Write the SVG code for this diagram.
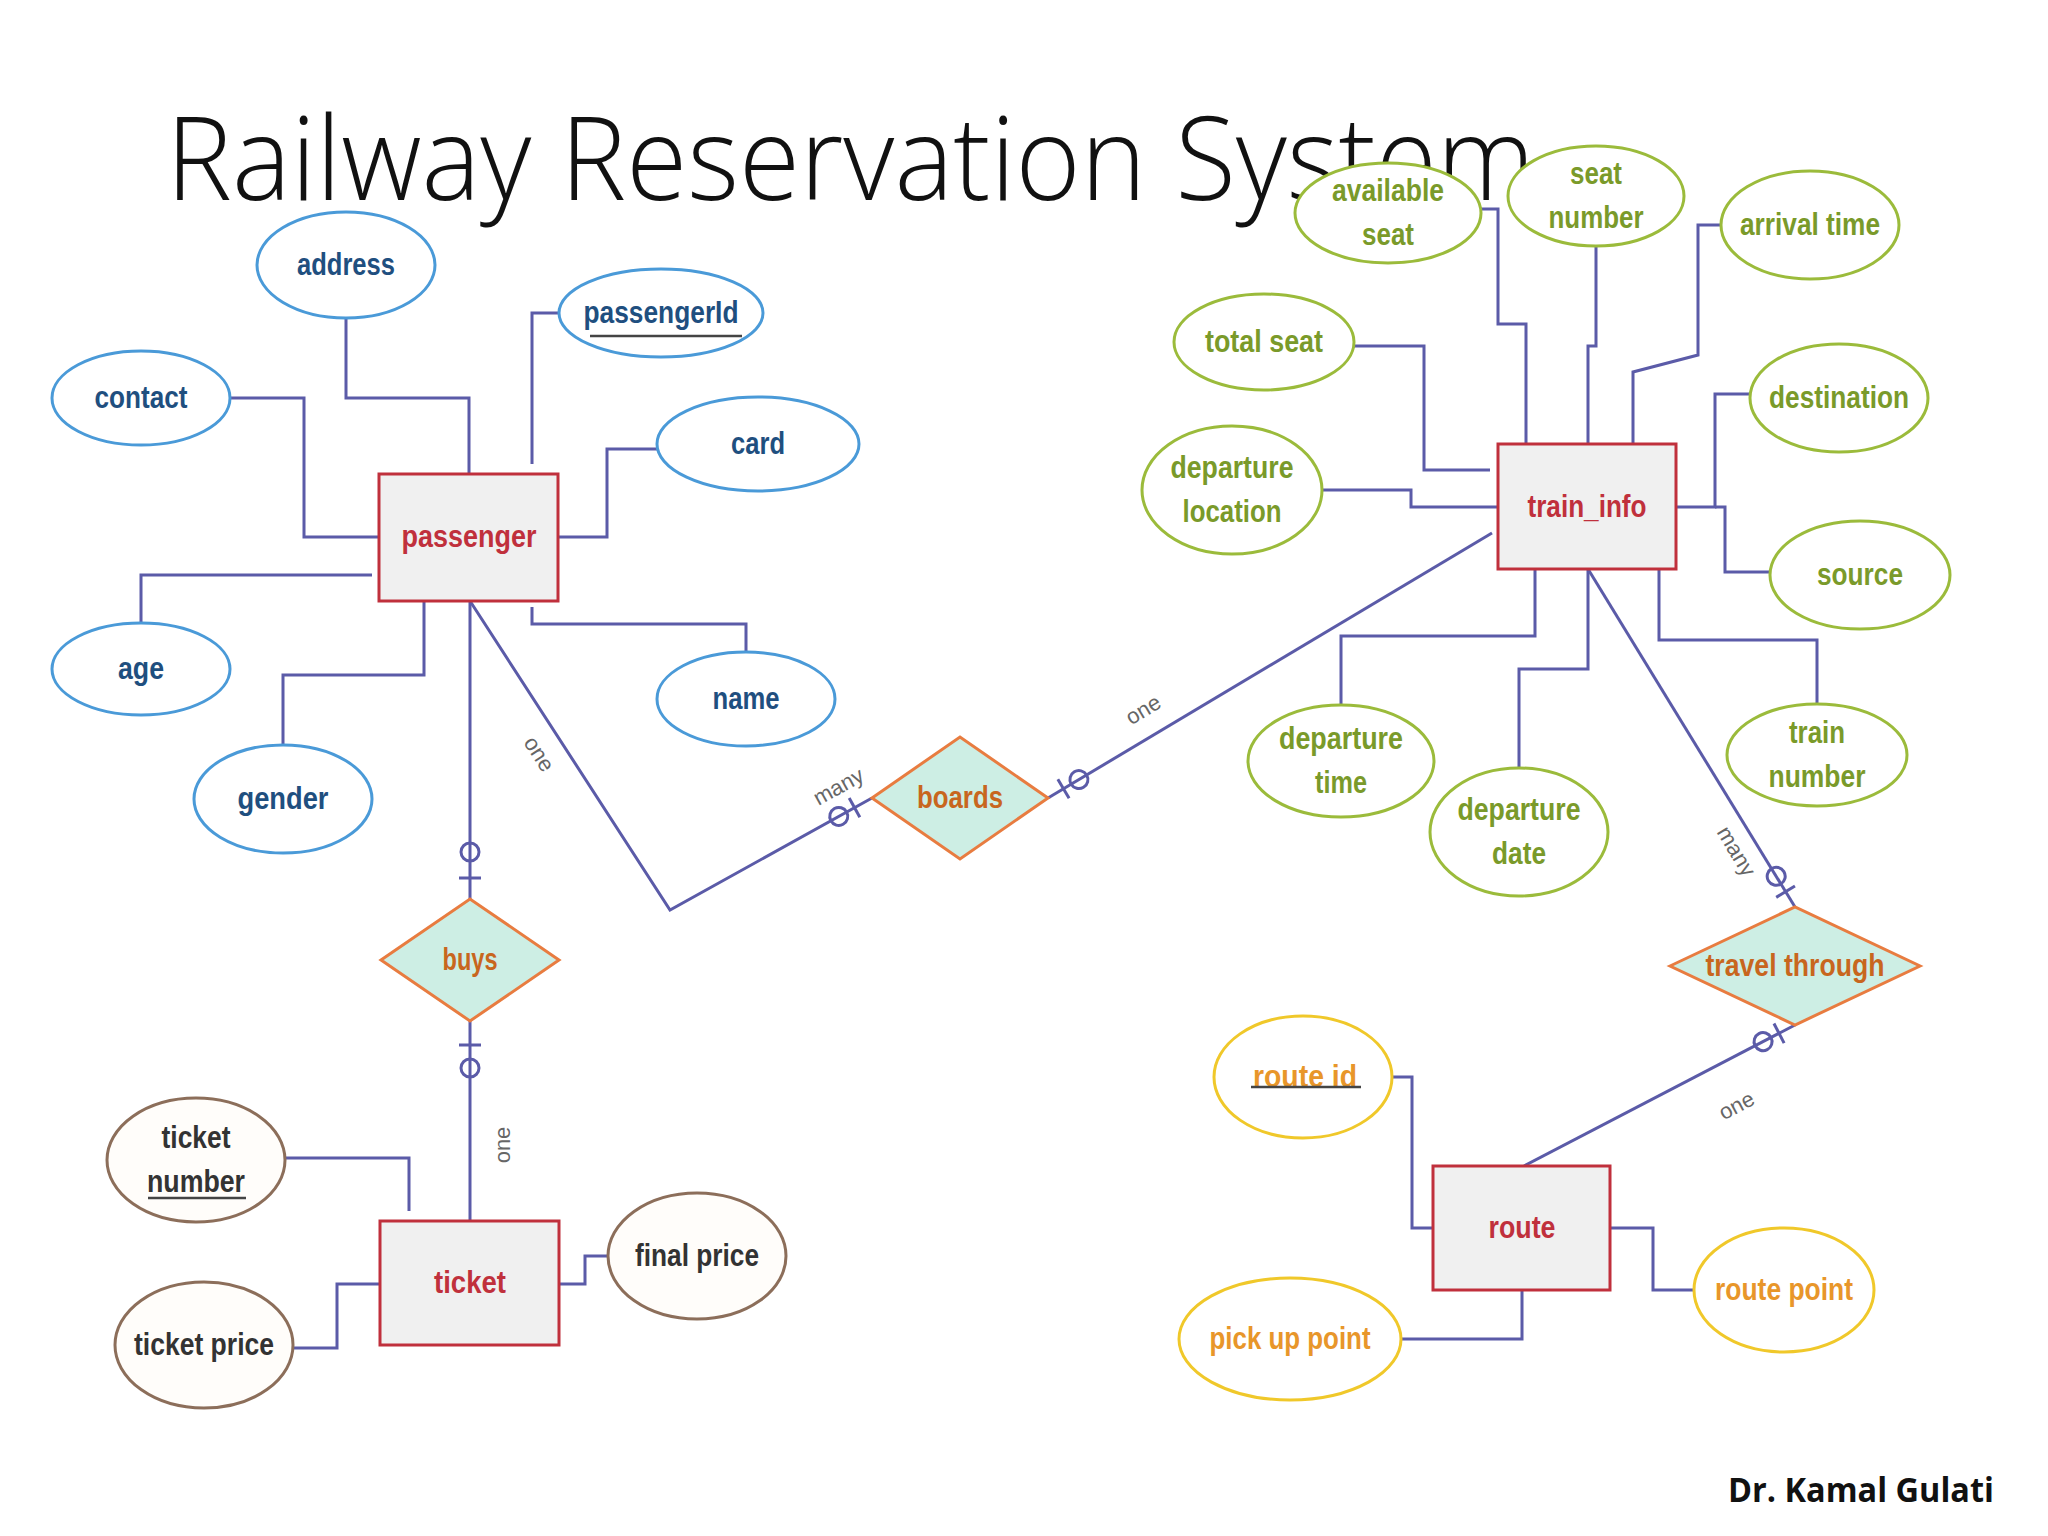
<svg xmlns="http://www.w3.org/2000/svg" width="2048" height="1536" viewBox="0 0 2048 1536">
<style>
.bg{fill:#ffffff}
.title{font-family:"Open Sans","Liberation Sans",sans-serif;font-weight:300;font-size:116px;fill:#111}
.author{font-family:"Open Sans","Liberation Sans",sans-serif;font-weight:700;font-size:34px;fill:#111}
.conn{fill:none;stroke:#5b5ba8;stroke-width:3}
.sym{fill:none;stroke:#5b5ba8;stroke-width:3}
.card{font-family:"Liberation Sans",sans-serif;font-size:22px;fill:#666}
.lbl{font-family:"Liberation Sans",sans-serif;font-weight:700;font-size:31px;text-anchor:middle}
.ent rect{fill:#f0f0f0;stroke:#c0303c;stroke-width:3}
.ent text{fill:#c0303c}
.rel polygon{fill:#cdeee4;stroke:#e87c40;stroke-width:3}
.rel text{fill:#c8661e}
.blue ellipse{fill:#ffffff;stroke:#4a9ad8;stroke-width:3}
.blue text{fill:#1f4f7f}
.green ellipse{fill:#ffffff;stroke:#9bbb3b;stroke-width:3}
.green text{fill:#7a9a2a}
.brown ellipse{fill:#fffdfa;stroke:#8c6e5a;stroke-width:3}
.brown text{fill:#333333}
.yellow ellipse{fill:#ffffff;stroke:#f0c82a;stroke-width:3}
.yellow text{fill:#e8962a}
.ul{stroke:#444;stroke-width:2.5}
</style>
<rect class="bg" x="0" y="0" width="2048" height="1536"/>
<text class="title" x="166" y="200" textLength="1369" lengthAdjust="spacingAndGlyphs">Railway Reservation System</text>

<g id="connectors">
  <!-- passenger attributes -->
  <polyline class="conn" points="346,318 346,398 469,398 469,474"/>
  <polyline class="conn" points="559,313 532,313 532,464"/>
  <polyline class="conn" points="230,398 304,398 304,537 379,537"/>
  <polyline class="conn" points="657,449 607,449 607,537 558,537"/>
  <polyline class="conn" points="141,623 141,575 372,575"/>
  <polyline class="conn" points="283,745 283,675 424,675 424,601"/>
  <polyline class="conn" points="746,652 746,624 532,624 532,607"/>
  <!-- train_info attributes -->
  <polyline class="conn" points="1481,209 1498,209 1498,324 1526,324 1526,444"/>
  <polyline class="conn" points="1596,246 1596,346 1588,346 1588,444"/>
  <polyline class="conn" points="1721,225 1698,225 1698,355 1633,372 1633,444"/>
  <polyline class="conn" points="1353,346 1424,346 1424,470 1490,470"/>
  <polyline class="conn" points="1322,490 1411,490 1411,507 1498,507"/>
  <polyline class="conn" points="1750,394 1715,394 1715,507 1676,507"/>
  <polyline class="conn" points="1770,572 1725,572 1725,507 1715,507"/>
  <polyline class="conn" points="1341,705 1341,636 1535,636 1535,569"/>
  <polyline class="conn" points="1519,768 1519,669 1588,669 1588,569"/>
  <polyline class="conn" points="1817,704 1817,640 1659,640 1659,569"/>
  <!-- ticket attributes -->
  <polyline class="conn" points="285,1158 409,1158 409,1211"/>
  <polyline class="conn" points="293,1348 337,1348 337,1284 380,1284"/>
  <polyline class="conn" points="608,1256 585,1256 585,1284 559,1284"/>
  <!-- route attributes -->
  <polyline class="conn" points="1392,1077 1412,1077 1412,1228 1433,1228"/>
  <polyline class="conn" points="1610,1228 1653,1228 1653,1290 1694,1290"/>
  <polyline class="conn" points="1400,1339 1522,1339 1522,1290"/>
  <!-- relationships -->
  <polyline class="conn" points="470,601 670,910 872,798"/>
  <line class="conn" x1="1048" y1="798" x2="1492" y2="533"/>
  <line class="conn" x1="470" y1="601" x2="470" y2="899"/>
  <line class="conn" x1="470" y1="1021" x2="470" y2="1221"/>
  <line class="conn" x1="1588" y1="569" x2="1795" y2="907"/>
  <line class="conn" x1="1795" y1="1025" x2="1524" y2="1166"/>
  <!-- zero-or-one symbols -->
  <circle class="sym" cx="470" cy="852" r="9"/>
  <line class="sym" x1="459" y1="878" x2="481" y2="878"/>
  <circle class="sym" cx="470" cy="1068" r="9"/>
  <line class="sym" x1="459" y1="1045" x2="481" y2="1045"/>
  <g transform="translate(872,798) rotate(-29)">
    <line class="sym" x1="-20" y1="-11" x2="-20" y2="11"/>
    <circle class="sym" cx="-38" cy="0" r="9"/>
  </g>
  <g transform="translate(1048,798) rotate(-30.8)">
    <line class="sym" x1="18" y1="-11" x2="18" y2="11"/>
    <circle class="sym" cx="36" cy="0" r="9"/>
  </g>
  <g transform="translate(1795,907) rotate(58.5)">
    <line class="sym" x1="-18" y1="-11" x2="-18" y2="11"/>
    <circle class="sym" cx="-36" cy="0" r="9"/>
  </g>
  <g transform="translate(1795,1025) rotate(152.5)">
    <line class="sym" x1="18" y1="-11" x2="18" y2="11"/>
    <circle class="sym" cx="36" cy="0" r="9"/>
  </g>
  <!-- cardinality labels -->
  <text class="card" transform="translate(533,758) rotate(57)" text-anchor="middle">one</text>
  <text class="card" transform="translate(842,793) rotate(-29)" text-anchor="middle">many</text>
  <text class="card" transform="translate(1147,716) rotate(-31)" text-anchor="middle">one</text>
  <text class="card" transform="translate(510,1145) rotate(-90)" text-anchor="middle">one</text>
  <text class="card" transform="translate(1730,855) rotate(59)" text-anchor="middle">many</text>
  <text class="card" transform="translate(1740,1112) rotate(-28)" text-anchor="middle">one</text>
</g>

<!-- passenger -->
<g id="passenger" class="ent"><rect x="379" y="474" width="179" height="127"/><text class="lbl" x="469" y="547" textLength="135" lengthAdjust="spacingAndGlyphs">passenger</text></g>
<g id="address" class="blue"><ellipse cx="346" cy="265" rx="89" ry="53"/><text class="lbl" x="346" y="275" textLength="98" lengthAdjust="spacingAndGlyphs">address</text></g>
<g id="passengerId" class="blue"><ellipse cx="661" cy="313" rx="102" ry="44"/><text class="lbl" x="661" y="323" textLength="155" lengthAdjust="spacingAndGlyphs">passengerId</text><line class="ul" x1="590" y1="336" x2="742" y2="336"/></g>
<g id="contact" class="blue"><ellipse cx="141" cy="398" rx="89" ry="47"/><text class="lbl" x="141" y="408" textLength="93" lengthAdjust="spacingAndGlyphs">contact</text></g>
<g id="card" class="blue"><ellipse cx="758" cy="444" rx="101" ry="47"/><text class="lbl" x="758" y="454" textLength="54" lengthAdjust="spacingAndGlyphs">card</text></g>
<g id="age" class="blue"><ellipse cx="141" cy="669" rx="89" ry="46"/><text class="lbl" x="141" y="679" textLength="46" lengthAdjust="spacingAndGlyphs">age</text></g>
<g id="gender" class="blue"><ellipse cx="283" cy="799" rx="89" ry="54"/><text class="lbl" x="283" y="809" textLength="91" lengthAdjust="spacingAndGlyphs">gender</text></g>
<g id="name" class="blue"><ellipse cx="746" cy="699" rx="89" ry="47"/><text class="lbl" x="746" y="709" textLength="67" lengthAdjust="spacingAndGlyphs">name</text></g>

<!-- train_info -->
<g id="train_info" class="ent"><rect x="1498" y="444" width="178" height="125"/><text class="lbl" x="1587" y="517" textLength="119" lengthAdjust="spacingAndGlyphs">train_info</text></g>
<g id="available_seat" class="green"><ellipse cx="1388" cy="213" rx="93" ry="50"/><text class="lbl" x="1388" y="201" textLength="112" lengthAdjust="spacingAndGlyphs">available</text><text class="lbl" x="1388" y="245" textLength="52" lengthAdjust="spacingAndGlyphs">seat</text></g>
<g id="seat_number" class="green"><ellipse cx="1596" cy="196" rx="88" ry="50"/><text class="lbl" x="1596" y="184" textLength="52" lengthAdjust="spacingAndGlyphs">seat</text><text class="lbl" x="1596" y="228" textLength="95" lengthAdjust="spacingAndGlyphs">number</text></g>
<g id="arrival_time" class="green"><ellipse cx="1810" cy="225" rx="89" ry="54"/><text class="lbl" x="1810" y="235" textLength="140" lengthAdjust="spacingAndGlyphs">arrival time</text></g>
<g id="total_seat" class="green"><ellipse cx="1264" cy="342" rx="90" ry="48"/><text class="lbl" x="1264" y="352" textLength="118" lengthAdjust="spacingAndGlyphs">total seat</text></g>
<g id="destination" class="green"><ellipse cx="1839" cy="398" rx="89" ry="54"/><text class="lbl" x="1839" y="408" textLength="140" lengthAdjust="spacingAndGlyphs">destination</text></g>
<g id="departure_location" class="green"><ellipse cx="1232" cy="490" rx="90" ry="64"/><text class="lbl" x="1232" y="478" textLength="123" lengthAdjust="spacingAndGlyphs">departure</text><text class="lbl" x="1232" y="522" textLength="99" lengthAdjust="spacingAndGlyphs">location</text></g>
<g id="source" class="green"><ellipse cx="1860" cy="575" rx="90" ry="54"/><text class="lbl" x="1860" y="585" textLength="86" lengthAdjust="spacingAndGlyphs">source</text></g>
<g id="departure_time" class="green"><ellipse cx="1341" cy="761" rx="93" ry="56"/><text class="lbl" x="1341" y="749" textLength="124" lengthAdjust="spacingAndGlyphs">departure</text><text class="lbl" x="1341" y="793" textLength="52" lengthAdjust="spacingAndGlyphs">time</text></g>
<g id="departure_date" class="green"><ellipse cx="1519" cy="832" rx="89" ry="64"/><text class="lbl" x="1519" y="820" textLength="123" lengthAdjust="spacingAndGlyphs">departure</text><text class="lbl" x="1519" y="864" textLength="54" lengthAdjust="spacingAndGlyphs">date</text></g>
<g id="train_number" class="green"><ellipse cx="1817" cy="755" rx="90" ry="51"/><text class="lbl" x="1817" y="743" textLength="56" lengthAdjust="spacingAndGlyphs">train</text><text class="lbl" x="1817" y="787" textLength="97" lengthAdjust="spacingAndGlyphs">number</text></g>

<!-- relationships -->
<g id="boards" class="rel"><polygon points="872,798 960,737 1048,798 960,859"/><text class="lbl" x="960" y="808" textLength="86" lengthAdjust="spacingAndGlyphs">boards</text></g>
<g id="buys" class="rel"><polygon points="381,960 470,899 559,960 470,1021"/><text class="lbl" x="470" y="970" textLength="55" lengthAdjust="spacingAndGlyphs">buys</text></g>
<g id="travel_through" class="rel"><polygon points="1670,966 1795,907 1920,966 1795,1025"/><text class="lbl" x="1795" y="976" textLength="179" lengthAdjust="spacingAndGlyphs">travel through</text></g>

<!-- ticket -->
<g id="ticket" class="ent"><rect x="380" y="1221" width="179" height="124"/><text class="lbl" x="470" y="1293" textLength="72" lengthAdjust="spacingAndGlyphs">ticket</text></g>
<g id="ticket_number" class="brown"><ellipse cx="196" cy="1160" rx="89" ry="62"/><text class="lbl" x="196" y="1148" textLength="69" lengthAdjust="spacingAndGlyphs">ticket</text><text class="lbl" x="196" y="1192" textLength="98" lengthAdjust="spacingAndGlyphs">number</text><line class="ul" x1="148" y1="1198" x2="246" y2="1198"/></g>
<g id="ticket_price" class="brown"><ellipse cx="204" cy="1345" rx="89" ry="63"/><text class="lbl" x="204" y="1355" textLength="140" lengthAdjust="spacingAndGlyphs">ticket price</text></g>
<g id="final_price" class="brown"><ellipse cx="697" cy="1256" rx="89" ry="63"/><text class="lbl" x="697" y="1266" textLength="124" lengthAdjust="spacingAndGlyphs">final price</text></g>

<!-- route -->
<g id="route" class="ent"><rect x="1433" y="1166" width="177" height="124"/><text class="lbl" x="1522" y="1238" textLength="67" lengthAdjust="spacingAndGlyphs">route</text></g>
<g id="route_id" class="yellow"><ellipse cx="1303" cy="1077" rx="89" ry="61"/><text class="lbl" x="1305" y="1087" textLength="104" lengthAdjust="spacingAndGlyphs">route id</text><line class="ul" x1="1251" y1="1087" x2="1361" y2="1087"/></g>
<g id="pick_up_point" class="yellow"><ellipse cx="1290" cy="1339" rx="111" ry="61"/><text class="lbl" x="1290" y="1349" textLength="161" lengthAdjust="spacingAndGlyphs">pick up point</text></g>
<g id="route_point" class="yellow"><ellipse cx="1784" cy="1290" rx="90" ry="62"/><text class="lbl" x="1784" y="1300" textLength="138" lengthAdjust="spacingAndGlyphs">route point</text></g>

<text class="author" x="1728" y="1502" textLength="266" lengthAdjust="spacingAndGlyphs">Dr. Kamal Gulati</text>
</svg>
